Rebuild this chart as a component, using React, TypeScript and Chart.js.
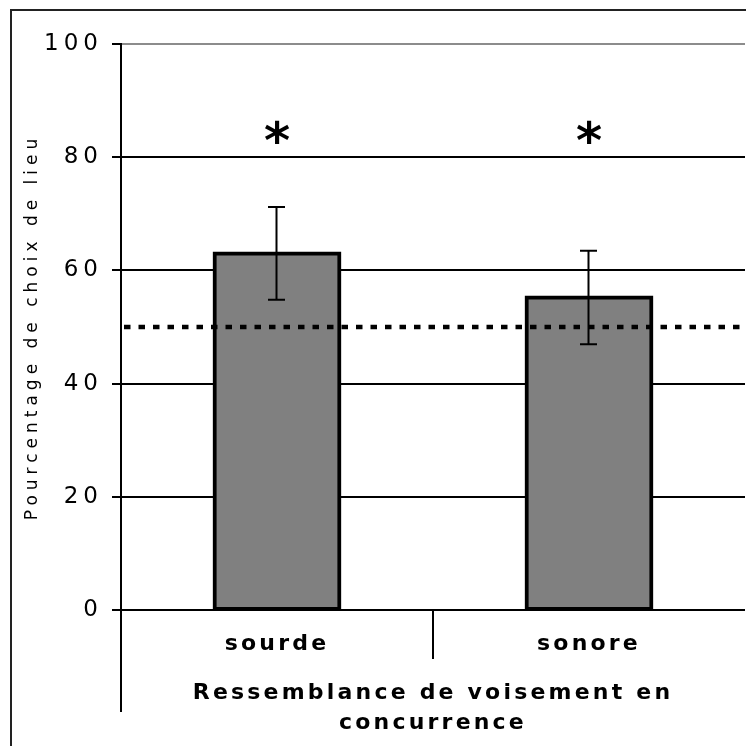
import React, { useEffect, useRef } from "react";
import { Chart, registerables } from "chart.js";

Chart.register(...registerables);

// Place-choice percentages by voicing of the competing consonant
const categories = ["sourde", "sonore"];
const percentages = [63.0, 55.2];
const errors = [8.2, 8.25];
const significance = ["*", "*"];
const chanceLevel = 50;
const starLevel = 84.5;
const yMin = 0;
const yMax = 100;
const yStep = 20;
const yTitle = "Pourcentage de choix de lieu";
const xTitle = ["Ressemblance de voisement en", "concurrence"];

const FONT = "DejaVu Sans";
// wide tracking for the value axis, tighter for the category axis
const SPACING_Y = 5;
const SPACING_X = 3.2;

const decorations = {
  id: "decorations",
  beforeDraw(chart: any) {
    chart.ctx.letterSpacing = SPACING_Y + "px";
  },
  afterDatasetsDraw(chart: any) {
    const { ctx, chartArea, scales } = chart;
    const y = scales.y;
    const meta = chart.getDatasetMeta(0);
    ctx.save();

    // chance level
    const yc = y.getPixelForValue(chanceLevel);
    ctx.strokeStyle = "#000";
    ctx.lineWidth = 4.5;
    ctx.lineCap = "butt";
    ctx.setLineDash([6.5, 8]);
    ctx.beginPath();
    ctx.moveTo(chartArea.left + 3, yc);
    ctx.lineTo(chartArea.right, yc);
    ctx.stroke();
    ctx.setLineDash([]);

    // error bars
    ctx.lineWidth = 2;
    meta.data.forEach((bar: any, i: number) => {
      const x = Math.round(bar.x) - 0.5;
      const top = y.getPixelForValue(percentages[i] + errors[i]);
      const bot = y.getPixelForValue(percentages[i] - errors[i]);
      ctx.beginPath();
      ctx.moveTo(x, top);
      ctx.lineTo(x, bot);
      ctx.moveTo(x - 8.5, top);
      ctx.lineTo(x + 8.5, top);
      ctx.moveTo(x - 8.5, bot);
      ctx.lineTo(x + 8.5, bot);
      ctx.stroke();
    });

    // significance marks
    ctx.letterSpacing = "0px";
    ctx.font = `bold 50px "${FONT}"`;
    ctx.fillStyle = "#000";
    ctx.textAlign = "center";
    ctx.textBaseline = "alphabetic";
    const ys = y.getPixelForValue(starLevel);
    meta.data.forEach((bar: any, i: number) => {
      const m = ctx.measureText(significance[i]);
      const base = ys + (m.actualBoundingBoxAscent - m.actualBoundingBoxDescent) / 2;
      ctx.fillText(significance[i], bar.x, base);
    });
    ctx.restore();

    // category axis text is drawn after the datasets
    ctx.letterSpacing = SPACING_X + "px";
  },
  afterDraw(chart: any) {
    const { ctx, chartArea } = chart;
    ctx.save();
    ctx.letterSpacing = "0px";
    // category axis extends under the labels
    ctx.strokeStyle = "#000";
    ctx.lineWidth = 2;
    ctx.beginPath();
    ctx.moveTo(chartArea.left, chartArea.bottom);
    ctx.lineTo(chartArea.left, chartArea.bottom + 102);
    ctx.stroke();
    // outer frame
    ctx.strokeStyle = "#222";
    ctx.lineWidth = 2;
    ctx.strokeRect(11, 10, 1000, 1000);
    ctx.restore();
  },
};

export default function App() {
  const ref = useRef<HTMLCanvasElement | null>(null);

  useEffect(() => {
    if (!ref.current) return;
    const chart = new Chart(ref.current, {
      type: "bar",
      data: {
        labels: categories,
        datasets: [
          {
            data: percentages,
            backgroundColor: "#808080",
            borderColor: "#000",
            borderWidth: 4,
            borderSkipped: false,
            inflateAmount: 2,
            barPercentage: 0.4,
            categoryPercentage: 1,
          },
        ],
      },
      options: {
        responsive: false,
        animation: false,
        devicePixelRatio: 1,
        layout: { padding: { left: 0, top: 44, right: 35, bottom: 0 } },
        plugins: { legend: { display: false }, tooltip: { enabled: false } },
        scales: {
          x: {
            type: "category",
            offset: true,
            grid: {
              display: true,
              offset: true,
              drawOnChartArea: false,
              drawTicks: true,
              tickLength: 49,
              lineWidth: 2,
              z: 1,
              color: (c: any) => (c.index === 1 ? "#000" : "rgba(0,0,0,0)"),
            },
            border: { display: false },
            ticks: {
              z: 1,
              color: "#000",
              font: { family: FONT, size: 22, weight: "bold" },
              padding: -28,
              maxRotation: 0,
              autoSkip: false,
            },
            title: {
              display: true,
              text: xTitle,
              color: "#000",
              font: { family: FONT, size: 22, weight: "bold", lineHeight: "30px" },
              padding: { top: 0, bottom: 8 },
            },
            afterFit(s: any) {
              s.height = 136;
            },
          },
          y: {
            min: yMin,
            max: yMax,
            ticks: {
              stepSize: yStep,
              color: "#000",
              font: { family: FONT, size: 23 },
              padding: 9,
            },
            grid: {
              color: (c: any) => (c.tick && c.tick.value === yMax ? "#8c8c8c" : "#000"),
              tickColor: "#000",
              lineWidth: 2,
              tickLength: 9,
            },
            border: { color: "#000", width: 2 },
            title: {
              display: true,
              text: yTitle,
              color: "#000",
              font: { family: FONT, size: 17 },
              padding: { top: 22, bottom: 0 },
            },
            afterFit(s: any) {
              s.width = 121;
            },
          },
        },
      },
      plugins: [decorations],
    } as any);
    return () => chart.destroy();
  }, []);

  return (
    <div
      style={{
        position: "absolute",
        left: 0,
        top: 0,
        width: 746,
        height: 746,
        overflow: "hidden",
        background: "#fff",
      }}
    >
      <canvas ref={ref} width={780} height={746} style={{ display: "block" }} />
    </div>
  );
}
